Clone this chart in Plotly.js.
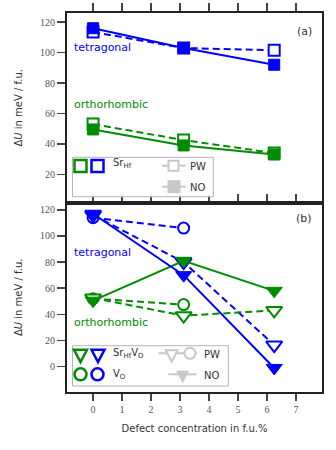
<!DOCTYPE html>
<html>
<head>
<meta charset="utf-8">
<script src="https://cdn.plot.ly/plotly-3.0.1.min.js"></script>
<style>
  html, body { margin: 0; padding: 0; background: white; }
  #chart { width: 336px; height: 450px; }
</style>
</head>
<body>
<div id="chart"></div>
<script>
// defect concentrations (f.u.%)
const conc = [0, 3.125, 6.25];
const concVO = [0, 3.125];

// (a) Sr_Hf
const tetSrHfNO = [116, 103, 92];
const tetSrHfPW = [113.5, 103, 101.5];
const orthSrHfNO = [49.5, 39, 33];
const orthSrHfPW = [53, 42.5, 34];

// (b) Sr_Hf V_O and V_O
const tetSrHfVONO = [117, 70, -1];
const tetSrHfVOPW = [116, 80, 16.5];
const tetVOPW = [114, 106];
const orthSrHfVONO = [50.5, 81, 58];
const orthSrHfVOPW = [52.5, 39, 43];
const orthVOPW = [52, 47.5];

const xTicks = [0, 1, 2, 3, 4, 5, 6, 7];
const yTicksA = [20, 40, 60, 80, 100, 120];
const yTicksB = [0, 20, 40, 60, 80, 100, 120];

const BLUE = "#0000ff";
const GREEN = "#008c00";
const GRAY = "#c8c8c8";
const SANS = "DejaVu Sans, sans-serif";
const SERIF = "Liberation Serif, serif";

function series(x, y, panel, color, symbol, open, dashed) {
  return {
    x, y,
    xaxis: panel === "a" ? "x2" : "x",
    yaxis: panel === "a" ? "y2" : "y",
    type: "scatter",
    mode: "lines+markers",
    showlegend: false,
    hoverinfo: "skip",
    line: { color, width: 2, dash: dashed ? "7px,4px" : "solid" },
    marker: {
      symbol,
      size: symbol === "square" ? 11 : (symbol === "circle" ? 11 : 14),
      color: open ? "white" : color,
      line: { color, width: open ? 2 : 1 }
    }
  };
}

const traces = [
  // (a)
  series(conc, tetSrHfPW, "a", BLUE, "square", true, true),
  series(conc, orthSrHfPW, "a", GREEN, "square", true, true),
  series(conc, tetSrHfNO, "a", BLUE, "square", false, false),
  series(conc, orthSrHfNO, "a", GREEN, "square", false, false),
  // (b)
  series(concVO, tetVOPW, "b", BLUE, "circle", true, true),
  series(concVO, orthVOPW, "b", GREEN, "circle", true, true),
  series(conc, tetSrHfVOPW, "b", BLUE, "triangle-down", true, true),
  series(conc, orthSrHfVOPW, "b", GREEN, "triangle-down", true, true),
  series(conc, orthSrHfVONO, "b", GREEN, "triangle-down", false, false),
  series(conc, tetSrHfVONO, "b", BLUE, "triangle-down", false, false)
];

// plot area in pixels, used to place the hand-drawn legends
const L = 67, R = 14, T = 13, B = 58;
const PW_ = 336 - L - R, PH_ = 450 - T - B;
const px = v => (v - L) / PW_;
const py = v => (450 - B - v) / PH_;

const shapes = [];
const notes = [];

function box(x0, y0, x1, y1) {
  shapes.push({ type: "rect", xref: "paper", yref: "paper", layer: "above",
    x0: px(x0), x1: px(x1), y0: py(y1), y1: py(y0),
    line: { color: "#b4b4b4", width: 1 }, fillcolor: "rgba(255,255,255,0.9)" });
}
function hline(x0, x1, y) {
  shapes.push({ type: "line", xref: "paper", yref: "paper", layer: "above",
    x0: px(x0), x1: px(x1), y0: py(y), y1: py(y), line: { color: GRAY, width: 2 } });
}
function glyph(kind, cx, cy, s, color, open, lw) {
  const h = s / 2;
  const g = { xref: "paper", yref: "paper", layer: "above",
    xsizemode: "pixel", ysizemode: "pixel", xanchor: px(cx), yanchor: py(cy),
    line: { color, width: open ? lw : 0 }, fillcolor: open ? "white" : color };
  if (kind === "tri") {
    g.type = "path";
    g.path = `M${-h},${h * 0.8} L${h},${h * 0.8} L0,${-h * 1.1} Z`;
  } else {
    g.type = kind === "sq" ? "rect" : "circle";
    g.x0 = -h; g.x1 = h; g.y0 = -h; g.y1 = h;
  }
  shapes.push(g);
}
function label(text, x, y, color, size, anchor) {
  notes.push({ text, xref: "paper", yref: "paper", x: px(x), y: py(y),
    xanchor: anchor || "left", yanchor: "middle", showarrow: false,
    font: { family: SANS, size: size || 10, color: color || "#333" } });
}

// legend (a)
box(72.5, 157.3, 213.3, 196.7);
glyph("sq", 80.5, 166, 12, GREEN, true, 2.5);
glyph("sq", 97.5, 166, 12, BLUE, true, 2.5);
label("Sr<sub>Hf</sub>", 111, 164);
hline(161.7, 185.7, 165.7);
glyph("sq", 173.5, 165.7, 10, GRAY, true, 2);
label("PW", 187.5, 166.5);
hline(161.7, 185.7, 186.7);
glyph("sq", 174, 186.7, 13, GRAY, false, 0);
label("NO", 187.5, 187.5);

// legend (b)
box(72.5, 345.7, 228.3, 386);
glyph("tri", 80.5, 355, 13, GREEN, true, 2.5);
glyph("tri", 98, 355, 13, BLUE, true, 2.5);
label("Sr<sub>Hf</sub>V<sub>O</sub>", 111, 353.5);
hline(158.3, 197, 353.3);
glyph("tri", 171.7, 355, 12, GRAY, true, 2);
glyph("circ", 190, 353.3, 11, GRAY, true, 2);
label("PW", 202, 354);
glyph("circ", 80.5, 374.3, 12, GREEN, true, 2.5);
glyph("circ", 97.5, 374.3, 12, BLUE, true, 2.5);
label("V<sub>O</sub>", 111, 374.3);
hline(168.3, 196.7, 374.3);
glyph("tri", 182.7, 376, 13, GRAY, false, 0);
label("NO", 202, 375);

// phase labels and panel tags
label("tetragonal", 72, 48, BLUE, 11);
label("orthorhombic", 72, 105, GREEN, 11);
label("tetragonal", 72, 252, BLUE, 11);
label("orthorhombic", 72, 322, GREEN, 11);
label("(a)", 304, 31, "#333", 11, "center");
label("(b)", 304, 218, "#333", 11, "center");

const frame = { showline: true, linecolor: "#222", linewidth: 2, showgrid: false, zeroline: false };
const yTitle = { text: "Δ<i>U</i> in meV / f.u.", font: { family: SANS, size: 10, color: "#333" }, standoff: 16 };

const layout = {
  width: 336,
  height: 450,
  margin: { l: L, r: R, t: T, b: B },
  paper_bgcolor: "white",
  plot_bgcolor: "white",
  showlegend: false,
  xaxis: Object.assign({}, frame, {
    anchor: "y", range: [-0.9, 7.9], tickvals: xTicks,
    ticks: "outside", ticklen: 7, tickwidth: 1.5, tickcolor: "#444", mirror: "allticks",
    tickfont: { family: SERIF, size: 10, color: "#555" },
    title: { text: "Defect concentration in f.u.%", font: { family: SANS, size: 10, color: "#333" }, standoff: 11 }
  }),
  xaxis2: Object.assign({}, frame, {
    anchor: "y2", matches: "x", side: "top", tickvals: xTicks, showticklabels: false,
    ticks: "outside", ticklen: 8, tickwidth: 1.5, tickcolor: "#444", mirror: true
  }),
  yaxis: Object.assign({}, frame, {
    domain: [0, 0.5], range: [-19.4, 125.6], tickvals: yTicksB,
    ticks: "outside", ticklen: 8, tickwidth: 1.5, tickcolor: "#444", mirror: true,
    tickfont: { family: SERIF, size: 10, color: "#555" }, title: yTitle
  }),
  yaxis2: Object.assign({}, frame, {
    domain: [0.5, 1], range: [1.5, 126], tickvals: yTicksA,
    ticks: "outside", ticklen: 8, tickwidth: 1.5, tickcolor: "#444", mirror: true,
    tickfont: { family: SERIF, size: 10, color: "#555" }, title: yTitle
  }),
  shapes,
  annotations: notes
};

Plotly.newPlot("chart", traces, layout, { displayModeBar: false, staticPlot: true });
</script>
</body>
</html>
